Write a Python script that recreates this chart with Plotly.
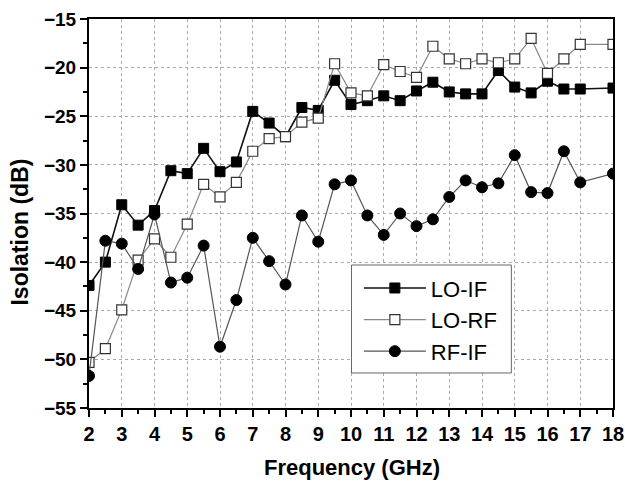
import plotly.graph_objects as go

freq = [2, 2.5, 3, 3.5, 4, 4.5, 5, 5.5, 6, 6.5, 7, 7.5, 8, 8.5, 9, 9.5,
        10, 10.5, 11, 11.5, 12, 12.5, 13, 13.5, 14, 14.5, 15, 15.5, 16, 16.5, 17, 18]

lo_if = [-42.4, -40.0, -34.1, -36.2, -34.7, -30.6, -30.9, -28.3, -30.7, -29.7, -24.5, -25.7,
         -27.1, -24.1, -24.4, -21.3, -23.8, -23.4, -22.9, -23.4, -22.4, -21.5, -22.5, -22.7,
         -22.7, -20.3, -22.0, -22.6, -21.4, -22.2, -22.2, -22.1]

lo_rf = [-50.3, -48.9, -44.9, -39.8, -37.6, -39.5, -36.1, -32.0, -33.3, -31.8, -28.6, -27.3,
         -27.1, -25.6, -25.2, -19.6, -22.6, -22.9, -19.7, -20.4, -21.0, -17.8, -19.1, -19.6,
         -19.1, -19.5, -19.1, -17.0, -20.6, -19.1, -17.6, -17.6]

rf_if = [-51.7, -37.8, -38.1, -40.7, -35.1, -42.1, -41.6, -38.3, -48.7, -43.9, -37.5, -39.9,
         -42.3, -35.2, -37.9, -32.0, -31.6, -35.2, -37.2, -35.0, -36.3, -35.6, -33.3, -31.6,
         -32.3, -31.9, -29.0, -32.8, -32.9, -28.6, -31.8, -30.9]

fig = go.Figure()
fig.add_trace(go.Scatter(x=freq, y=lo_if, name="LO-IF", mode="lines+markers",
                         line=dict(color="#111111", width=1.6),
                         marker=dict(symbol="square", size=10, color="black",
                                     line=dict(color="black", width=1))))
fig.add_trace(go.Scatter(x=freq, y=lo_rf, name="LO-RF", mode="lines+markers",
                         line=dict(color="#888888", width=1.2),
                         marker=dict(symbol="square", size=10, color="white",
                                     line=dict(color="#333333", width=1.2))))
fig.add_trace(go.Scatter(x=freq, y=rf_if, name="RF-IF", mode="lines+markers",
                         line=dict(color="#555555", width=1.2),
                         marker=dict(symbol="circle", size=11, color="black",
                                     line=dict(color="black", width=1))))

axis_common = dict(
    showline=True, linecolor="black", linewidth=2, mirror=True,
    showgrid=True, gridcolor="#aaaaaa", griddash="dot", gridwidth=1,
    ticks="outside", ticklen=7, tickwidth=1.5, tickcolor="black",
    zeroline=False, automargin=False,
)

fig.update_xaxes(range=[2, 18], dtick=1, tick0=2,
                 tickfont=dict(family="Arial", size=20, color="black", weight="bold"),
                 minor=dict(ticks="outside", ticklen=4, dtick=0.5, tickcolor="black", showgrid=False),
                 **axis_common)
fig.update_yaxes(range=[-55, -15], dtick=5, tick0=-55,
                 tickfont=dict(family="Arial", size=19, color="black", weight="bold"),
                 minor=dict(ticks="outside", ticklen=4, dtick=2.5, tickcolor="black", showgrid=False),
                 **axis_common)

fig.add_annotation(text="Frequency (GHz)", xref="paper", yref="paper", x=0.501, y=-0.154,
                   xanchor="center", yanchor="middle", showarrow=False,
                   font=dict(family="Arial", size=22, color="black", weight="bold"))
fig.add_annotation(text="Isolation (dB)", xref="paper", yref="paper", x=-0.131, y=0.452,
                   xanchor="center", yanchor="middle", showarrow=False, textangle=-90,
                   font=dict(family="Arial", size=23, color="black", weight="bold"))

# legend frame (decoration behind the library legend)
fig.add_shape(type="rect", xref="paper", yref="paper", x0=0.501, x1=0.806, y0=0.090, y1=0.3676,
              fillcolor="white", line=dict(color="#666666", width=1), layer="above")

fig.update_layout(
    width=625, height=485,
    margin=dict(l=89, r=12, t=19, b=77),
    paper_bgcolor="white", plot_bgcolor="white",
    showlegend=True,
    legend=dict(x=0.515, y=0.362, xanchor="left", yanchor="top",
                bgcolor="rgba(0,0,0,0)", borderwidth=0,
                font=dict(family="Arial", size=22, color="black"),
                itemwidth=62, tracegroupgap=0),
)

fig.write_html("out.html")
